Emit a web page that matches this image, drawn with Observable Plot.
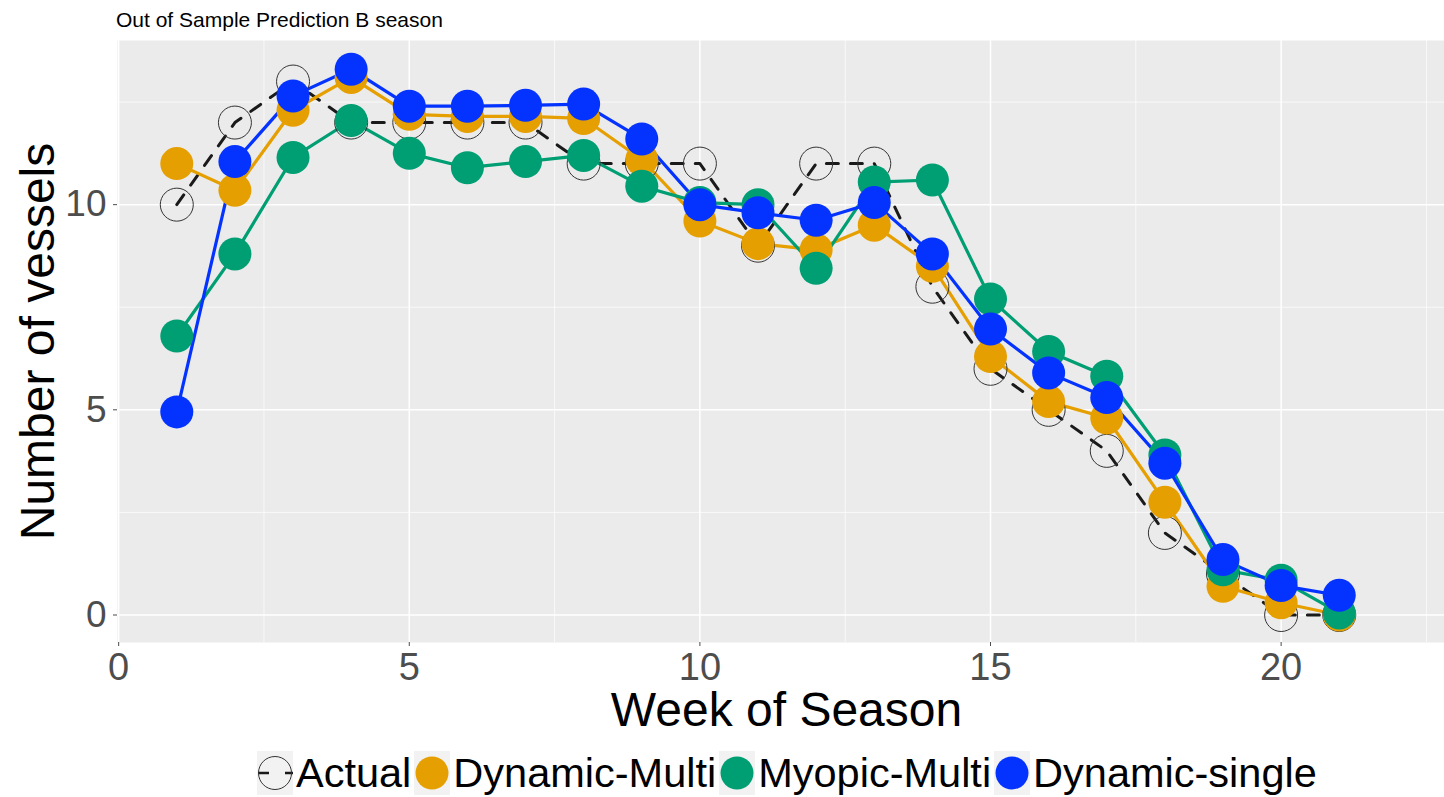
<!DOCTYPE html>
<html>
<head>
<meta charset="utf-8">
<script src="https://cdn.jsdelivr.net/npm/d3@7"></script>
<script src="https://cdn.jsdelivr.net/npm/@observablehq/plot@0.6"></script>
<style>
  html, body { margin: 0; padding: 0; background: #ffffff; overflow: hidden; }
  body { width: 1444px; height: 797px; position: relative; font-family: "Liberation Sans", Arial, sans-serif; }
  #title { position: absolute; left: 116px; top: 8px; font-size: 21px; line-height: 24px; color: #000; white-space: nowrap; z-index: 2; }
  #chart { position: absolute; left: 0; top: 0; z-index: 1; }
  #chart svg { overflow: hidden; max-width: none; }
  #legend { position: absolute; left: 257px; top: 751px; height: 44px; display: flex; align-items: center; white-space: nowrap; z-index: 2; }
  .key { width: 36px; height: 44px; background: #F2F2F2; flex: none; }
  .key svg { display: block; }
  .lab { font-size: 41.5px; line-height: 44px; color: #000; margin-left: 3px; margin-right: 3px; }
</style>
</head>
<body>
<div id="title"></div>
<div id="chart"></div>
<div id="legend"></div>
<script>
// ---- data ----
const weeks = [1, 2, 3, 4, 5, 6, 7, 8, 9, 10, 11, 12, 13, 14, 15, 16, 17, 18, 19, 20, 21];
const actual = [10, 12, 13, 12, 12, 12, 12, 11, 11, 11, 9, 11, 11, 8, 6, 5, 4, 2, 1, 0, 0];
const dynamicMulti = [11.0, 10.35, 12.3, 13.1, 12.2, 12.15, 12.15, 12.1, 11.1, 9.6, 9.05, 8.9, 9.5, 8.5, 6.3, 5.2, 4.8, 2.75, 0.7, 0.3, 0.0];
const myopicMulti = [6.8, 8.8, 11.15, 12.05, 11.25, 10.9, 11.05, 11.2, 10.45, 10.05, 10.0, 8.45, 10.55, 10.6, 7.7, 6.42, 5.82, 3.9, 1.1, 0.85, 0.05];
const dynamicSingle = [4.95, 11.05, 12.65, 13.3, 12.4, 12.4, 12.42, 12.45, 11.6, 10.0, 9.8, 9.62, 10.05, 8.8, 6.97, 5.9, 5.3, 3.7, 1.35, 0.72, 0.48];

const seriesNames = ["Actual", "Dynamic-Multi", "Myopic-Multi", "Dynamic-single"];
const seriesColors = ["#1a1a1a", "#E69F00", "#009E73", "#0433FF"];
const seriesValues = [actual, dynamicMulti, myopicMulti, dynamicSingle];

const xMajorTicks = [0, 5, 10, 15, 20];
const xMinorTicks = [2.5, 7.5, 12.5, 17.5, 22.5];
const yMajorTicks = [0, 5, 10];
const yMinorTicks = [2.5, 7.5, 12.5];

const titleText = "Out of Sample Prediction B season";
const xTitle = "Week of Season";
const yTitle = "Number of vessels";

document.getElementById("title").textContent = titleText;

// ---- table ----
const rows = seriesNames.flatMap((s, i) => weeks.map((w, j) => ({week: w, value: seriesValues[i][j], series: s})));
const actualRows = rows.filter(d => d.series === "Actual");
const modelRows = rows.filter(d => d.series !== "Actual");

const plot = Plot.plot({
  width: 1444,
  height: 740,
  marginLeft: 117,
  marginRight: -11,
  marginTop: 40,
  marginBottom: 98,
  x: {domain: [-0.02, 23.0]},
  y: {domain: [-0.67, 14.0]},
  color: {domain: seriesNames, range: seriesColors},
  style: {fontFamily: "'Liberation Sans', Arial, sans-serif", background: "transparent", overflow: "hidden"},
  marks: [
    Plot.frame({fill: "#EBEBEB", stroke: "none"}),
    Plot.gridX({ticks: xMinorTicks, stroke: "#ffffff", strokeOpacity: 1, strokeWidth: 0.7}),
    Plot.gridY({ticks: yMinorTicks, stroke: "#ffffff", strokeOpacity: 1, strokeWidth: 0.7}),
    Plot.gridX({ticks: xMajorTicks, stroke: "#ffffff", strokeOpacity: 1, strokeWidth: 1.5}),
    Plot.gridY({ticks: yMajorTicks, stroke: "#ffffff", strokeOpacity: 1, strokeWidth: 1.5}),
    Plot.axisX({ticks: xMajorTicks, tickSize: 4, tickPadding: 7, fontSize: 38, color: "#4D4D4D", label: null}),
    Plot.axisY({ticks: yMajorTicks, tickSize: 4, tickPadding: 7, fontSize: 37, color: "#4D4D4D", label: null}),
    Plot.text([xTitle], {text: d => d, frameAnchor: "bottom", lineAnchor: "bottom", dy: 83, fontSize: 48, fill: "#000000"}),
    Plot.text([yTitle], {text: d => d, frameAnchor: "left", textAnchor: "middle", lineAnchor: "bottom", rotate: -90, dx: -64, fontSize: 48, fill: "#000000"}),
    Plot.line(actualRows, {x: "week", y: "value", stroke: seriesColors[0], strokeWidth: 3, strokeDasharray: "12,12"}),
    Plot.line(modelRows, {x: "week", y: "value", z: "series", stroke: "series", strokeWidth: 3.2}),
    Plot.dot(actualRows, {x: "week", y: "value", r: 16.5, fill: "none", stroke: "#333333", strokeWidth: 1}),
    Plot.dot(modelRows, {x: "week", y: "value", r: 16.5, fill: "series", stroke: "none"})
  ]
});
document.getElementById("chart").appendChild(plot);

// ---- legend ----
const legend = document.getElementById("legend");
const ns = "http://www.w3.org/2000/svg";
seriesNames.forEach((name, i) => {
  const key = document.createElement("div");
  key.className = "key";
  const svg = document.createElementNS(ns, "svg");
  svg.setAttribute("width", 36);
  svg.setAttribute("height", 44);
  if (name === "Actual") {
    const ln = document.createElementNS(ns, "line");
    ln.setAttribute("x1", 1); ln.setAttribute("x2", 36);
    ln.setAttribute("y1", 22); ln.setAttribute("y2", 22);
    ln.setAttribute("stroke", seriesColors[i]);
    ln.setAttribute("stroke-width", 2.5);
    ln.setAttribute("stroke-dasharray", "11,16");
    svg.appendChild(ln);
    const c = document.createElementNS(ns, "circle");
    c.setAttribute("cx", 18); c.setAttribute("cy", 22); c.setAttribute("r", 16.5);
    c.setAttribute("fill", "none"); c.setAttribute("stroke", "#333333"); c.setAttribute("stroke-width", 1);
    svg.appendChild(c);
  } else {
    const c = document.createElementNS(ns, "circle");
    c.setAttribute("cx", 18); c.setAttribute("cy", 22); c.setAttribute("r", 16.5);
    c.setAttribute("fill", seriesColors[i]);
    svg.appendChild(c);
  }
  key.appendChild(svg);
  legend.appendChild(key);
  const lab = document.createElement("span");
  lab.className = "lab";
  lab.textContent = name;
  legend.appendChild(lab);
});
</script>
</body>
</html>
